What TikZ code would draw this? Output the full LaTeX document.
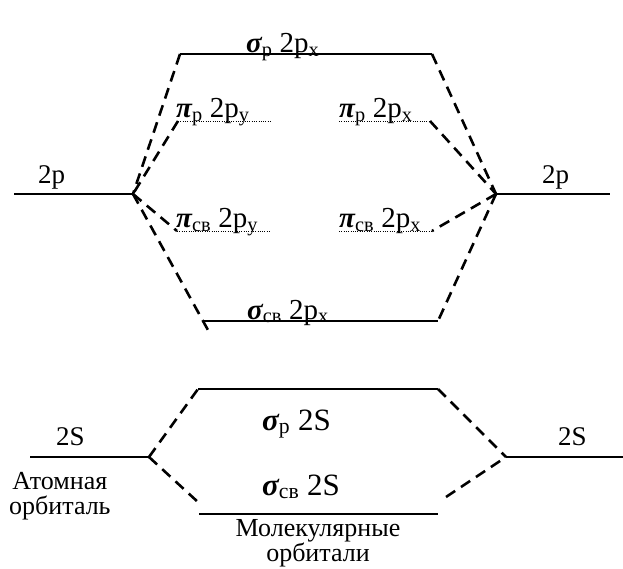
\documentclass[tikz,border=0pt]{standalone}
\usepackage{fontspec}
\setmainfont{Liberation Serif}
\usetikzlibrary{positioning, calc}
\tikzset{
  level/.style={line width=1.8pt, draw=black},
  sublevel/.style={line width=0.7pt, dash pattern=on 0.9pt off 1.4pt, draw=black},
  link/.style={dashed, line width=2.6pt, dash pattern=on 11pt off 7pt, draw=black},
  lbl/.style={inner sep=0pt, anchor=base west, font=\fontsize{27}{30}\selectfont},
  orb/.style={inner sep=0pt, anchor=base west, font=\fontsize{29}{32}\selectfont},
  note/.style={inner sep=0pt, align=center, font=\fontsize{26}{25}\selectfont},
}
\newcommand{\gs}{{\bfseries\itshape σ}}
\newcommand{\gp}{{\bfseries\itshape π}}
\newcommand{\lw}[1]{\textsubscript{#1}}

\begin{document}
\begin{tikzpicture}[x=1pt, y=-1pt]
  \useasboundingbox (0,0) rectangle (623,569);

  % 2p levels
  \coordinate (pL1) at (14,194);   \coordinate (pL2) at (133,194);
  \coordinate (pR1) at (496,194);  \coordinate (pR2) at (610,194);
  \coordinate (sa1) at (180,54);   \coordinate (sa2) at (432,54);
  \coordinate (pay1) at (178,121); \coordinate (pay2) at (271,121);
  \coordinate (pax1) at (339,121); \coordinate (pax2) at (430,121);
  \coordinate (pby1) at (177,231); \coordinate (pby2) at (271,231);
  \coordinate (pbx1) at (339,231); \coordinate (pbx2) at (432,231);
  \coordinate (sb1) at (203,321);  \coordinate (sb2) at (438,321);

  \draw[level] (pL1) -- (pL2);
  \draw[level] (pR1) -- (pR2);
  \draw[level] (sa1) -- (sa2);
  \draw[level] (sb1) -- (sb2);
  \draw[sublevel] (pay1) -- (pay2);
  \draw[sublevel] (pax1) -- (pax2);
  \draw[sublevel] (pby1) -- (pby2);
  \draw[sublevel] (pbx1) -- (pbx2);

  \node[lbl] (tpL) at (38,184) {2p};
  \node[lbl] (tpR) at (542,184) {2p};
  \node[orb] (tsa) at (246,53) {\gs\lw{p} 2p\lw{x}};
  \node[orb] (tpay) at (176,118) {\gp\lw{p} 2p\lw{y}};
  \node[orb] (tpax) at (339,118) {\gp\lw{p} 2p\lw{x}};
  \node[orb] (tpby) at (176,228) {\gp\lw{св} 2p\lw{y}};
  \node[orb] (tpbx) at (339,228) {\gp\lw{св} 2p\lw{x}};
  \node[orb] (tsb) at (247,319) {\gs\lw{св} 2p\lw{x}};

  \draw[link] (sa1) -- (pL2);
  \draw[link] (pay1) -- (pL2);
  \draw[link] (pL2) -- (pby1);
  \draw[link, shorten >=-13pt] (pL2) -- (sb1);
  \draw[link] (sa2) -- (pR1);
  \draw[link] (pax2) -- (pR1);
  \draw[link] (pR1) -- (pbx2);
  \draw[link] (pR1) -- (sb2);

  % 2S levels
  \coordinate (sL1) at (30,457);   \coordinate (sL2) at (149,457);
  \coordinate (sR1) at (506,457);  \coordinate (sR2) at (623,457);
  \coordinate (sc1) at (198,389);  \coordinate (sc2) at (438,389);
  \coordinate (sd1) at (199,514);  \coordinate (sd2) at (438,514);
  \coordinate (sdl) at (199,503);  \coordinate (sdr) at (446,497);

  \draw[level] (sL1) -- (sL2);
  \draw[level] (sR1) -- (sR2);
  \draw[level] (sc1) -- (sc2);
  \draw[level] (sd1) -- (sd2);

  \node[lbl] (tsL) at (56,445) {2S};
  \node[lbl] (tsR) at (558,445) {2S};
  \node[orb, font=\fontsize{31}{34}\selectfont] (tsc) at (262,430) {\gs\lw{p} 2S};
  \node[orb, font=\fontsize{31}{34}\selectfont] (tsd) at (262,495) {\gs\lw{св} 2S};

  \draw[link] (sL2) -- (sc1);
  \draw[link] (sL2) -- (sdl);
  \draw[link] (sc2) -- (sR1);
  \draw[link] (sdr) -- (sR1);

  \node[note, anchor=north west] (atom) at (9,472) {Атомная\\орбиталь};
  \node[note, anchor=north] (mol) at (318,519) {Молекулярные\\орбитали};
\end{tikzpicture}
\end{document}
